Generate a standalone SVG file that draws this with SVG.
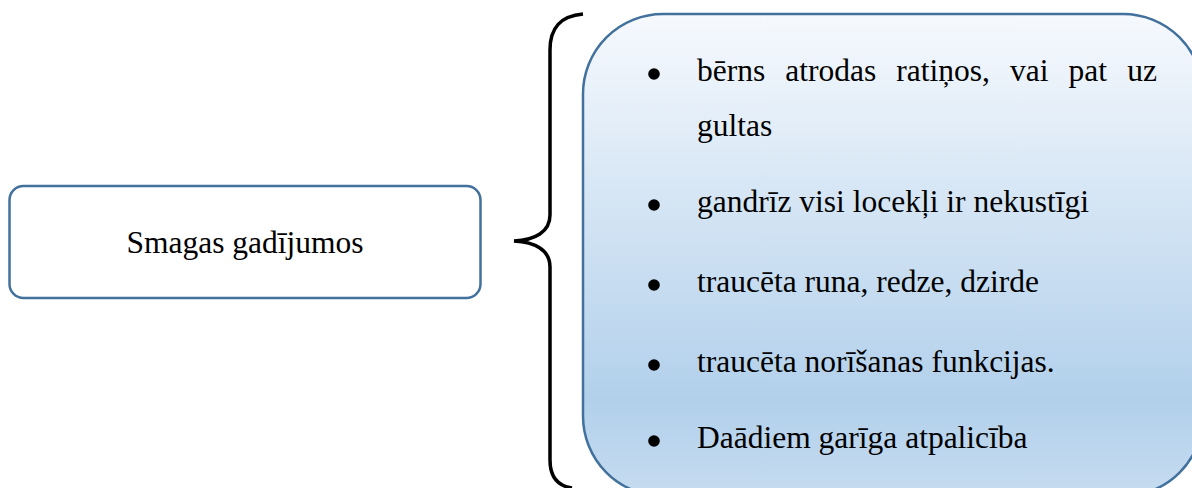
<svg xmlns="http://www.w3.org/2000/svg" width="1192" height="488" viewBox="0 0 1192 488">
<defs>
<linearGradient id="bg" x1="0" y1="0" x2="0" y2="1" gradientUnits="objectBoundingBox">
<stop offset="0" stop-color="#f6f9fd"/>
<stop offset="0.8" stop-color="#b2d0eb"/>
<stop offset="1" stop-color="#c6dcf0"/>
</linearGradient>
<style>
.t{font-family:"Liberation Serif","Times New Roman",serif;font-size:31.5px;fill:#000}
.box{stroke:#41719c;stroke-width:2.5}
</style>
</defs>
<rect width="1192" height="488" fill="#fff"/>
<g id="left-node">
<rect class="box" x="9.5" y="186" width="471" height="112" rx="14" fill="#fff"/>
<text class="t" x="245" y="253" text-anchor="middle">Smagas gadījumos</text>
</g>
<g id="connectors">
<path d="M583,14 C560,16 550,28 550,50 L550,215 C550,232 535,240 514,241 C535,242 550,250 550,267 L550,460 C550,478 558,486 572,488" fill="none" stroke="#000" stroke-width="3.5"/>
</g>
<g id="right-node">
<rect class="box" x="583" y="14" width="620" height="482" rx="80" fill="url(#bg)"/>
<g fill="#000">
<circle cx="654" cy="74" r="5.8"/>
<circle cx="654" cy="205" r="5.8"/>
<circle cx="654" cy="285" r="5.8"/>
<circle cx="654" cy="365" r="5.8"/>
<circle cx="654" cy="441" r="5.8"/>
</g>
<text class="t" x="697" y="81" word-spacing="12.2">bērns atrodas ratiņos, vai pat uz</text>
<text class="t" x="697" y="136">gultas</text>
<text class="t" x="697" y="212">gandrīz visi locekļi ir nekustīgi</text>
<text class="t" x="697" y="292">traucēta runa, redze, dzirde</text>
<text class="t" x="697" y="372">traucēta norīšanas funkcijas.</text>
<text class="t" x="697" y="448">Daādiem garīga atpalicība</text>
</g>
</svg>
